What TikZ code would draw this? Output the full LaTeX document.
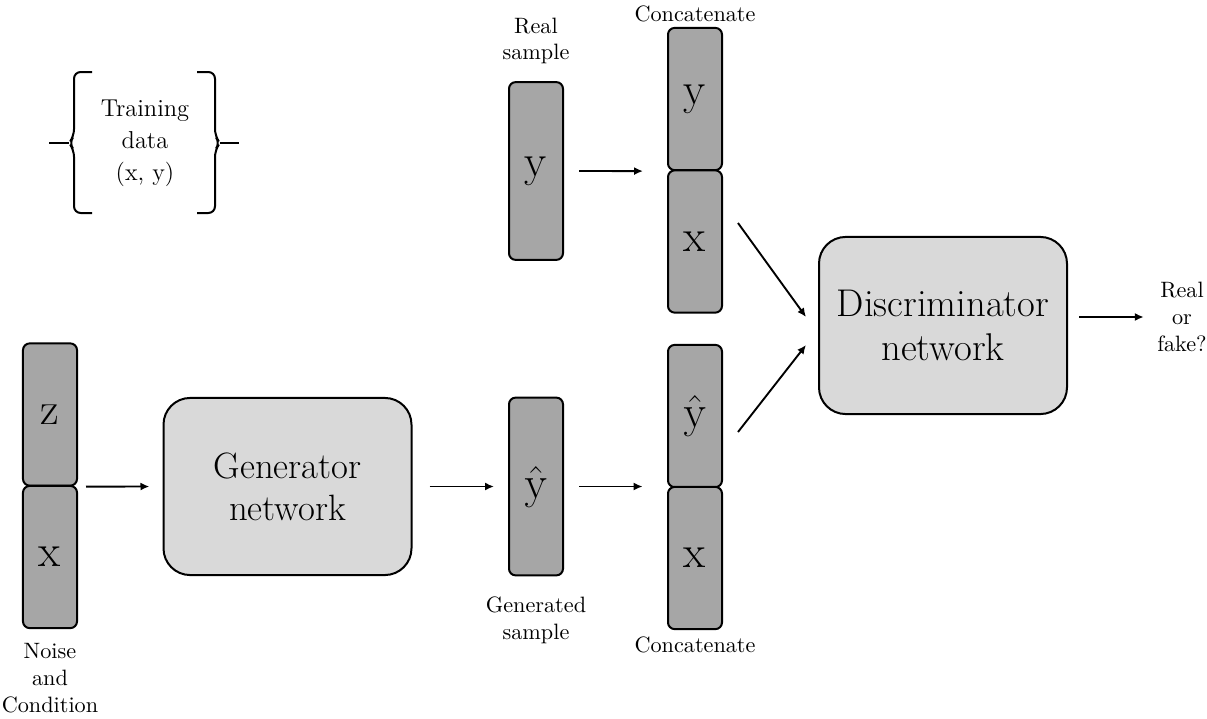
\documentclass[tikz,border=0pt]{standalone}
\usepackage{amsmath}
\usepackage{tikz}
\usetikzlibrary{calc, arrows.meta}

\begin{document}
\begin{tikzpicture}[x=0.45pt, y=-0.45pt,
                    bar/.style={draw, line width=0.9pt, fill=black!35, rounded corners=3pt,
                                minimum width=24.3pt, inner sep=0, font=\fontsize{20.5}{24}\selectfont},
                    halfbar/.style={bar, minimum height=64pt},
                    fullbar/.style={bar, minimum height=80pt},
                    net/.style={draw, line width=0.9pt, fill=black!15, rounded corners=12pt,
                                minimum width=111.6pt, minimum height=79.7pt, align=center},
                    caption/.style={align=center, inner sep=0, font=\fontsize{10}{12}\selectfont},
                    arr/.style={-{Latex[length=4pt, width=3.6pt]}, line width=0.85pt}]
                \useasboundingbox (0,0) rectangle (1207,719);

                % training data
                \node (data) [caption, font=\fontsize{11}{14.5}\selectfont] at (145,143) {Training\\data\\(x, y)};
                \draw [line width=0.9pt, rounded corners=3pt] (92,72) -- (74,72) -- (74,136) -- (69,143) -- (74,150) -- (74,213) -- (92,213);
                \draw [line width=0.9pt] (69,143) -- (49,143);
                \draw [line width=0.9pt, rounded corners=3pt] (197,72) -- (215,72) -- (215,136) -- (220,143) -- (215,150) -- (215,213) -- (197,213);
                \draw [line width=0.9pt] (220,143) -- (239,143);

                % generator side
                \node (nz) [halfbar] at (50,414.5) {z};
                \node (nx) [halfbar] at (50,557) {x};
                \node (noise) [caption] at (50,678) {Noise\\and\\Condition};
                \node (gen) [net, font=\fontsize{16.5}{19}\selectfont] at (287.5,486.5) {Generator\\network};
                \node (gy) [fullbar] at (536,486.5) {$\hat{\mathrm{y}}$};
                \node (gencap) [caption] at (536,620) {Generated\\sample};

                % real side
                \node (ry) [fullbar] at (536,171) {y};
                \node (realcap) [caption] at (536,41) {Real\\sample};

                % concatenations
                \node (cty) [halfbar] at (695,99) {y};
                \node (ctx) [halfbar] at (695,241.5) {x};
                \node (topcap) [caption] at (695,14) {Concatenate};
                \node (cby) [halfbar] at (695,416) {$\hat{\mathrm{y}}$};
                \node (cbx) [halfbar] at (695,558) {x};
                \node (botcap) [caption] at (695,645) {Concatenate};

                % discriminator
                \node (disc) [net, font=\fontsize{17.4}{19.5}\selectfont] at (943,325.5) {Discriminator\\network};
                \node (out) [caption] at (1182,317) {Real\\or\\fake?};

                \draw [arr, shorten <=3.6pt, shorten >=5.9pt] (nz.south east) -- (gen.west);
                \draw [arr, shorten <=7.7pt, shorten >=6.3pt] (gen.east) -- (gy.west);
                \draw [arr, shorten <=6.8pt, shorten >=11pt] (gy.east) -- (gy.east -| cby.west);
                \draw [arr, shorten <=6.8pt, shorten >=10.8pt] (ry.east) -- (cty.south west);
                \draw [arr] ($(ctx.east)+(15,-18.5)$) -- ($(disc.west)+(-12,-8.5)$);
                \draw [arr] ($(cby.east)+(15,16)$) -- ($(disc.west)+(-12,19.5)$);
                \draw [arr, shorten <=5pt, shorten >=5.9pt] (disc.east |- out.west) -- (out.west);
            \end{tikzpicture}
\end{document}
